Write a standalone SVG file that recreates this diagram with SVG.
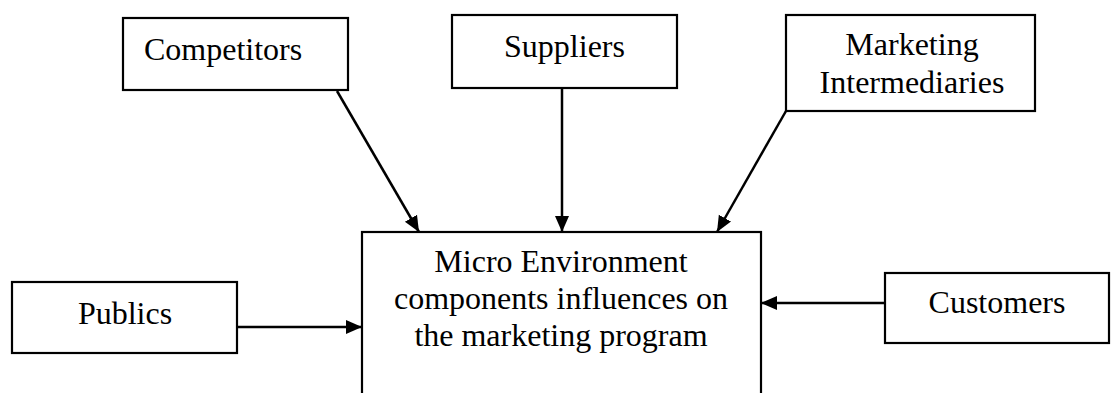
<svg xmlns="http://www.w3.org/2000/svg" width="1112" height="393" viewBox="0 0 1112 393">
<style>
.box{fill:#fff;stroke:#000;stroke-width:2.2}
.t{font-family:"Liberation Serif","Times New Roman",serif;font-size:32px;fill:#000}
.c{text-anchor:middle}
.conn{stroke:#000;stroke-width:2.5;fill:none}
</style>
<defs>
<marker id="ah" markerUnits="userSpaceOnUse" markerWidth="18" markerHeight="18" viewBox="0 0 18 18" refX="16" refY="9" orient="auto">
<path d="M0,2 L16,9 L0,16 Z" fill="#000"/>
</marker>
</defs>
<rect width="1112" height="393" fill="#fff"/>
<g id="competitors">
<rect class="box" x="123" y="18" width="225" height="72"/>
<text class="t" x="144" y="60">Competitors</text>
</g>
<g id="suppliers">
<rect class="box" x="452" y="15" width="225" height="73"/>
<text class="t c" x="564.5" y="57">Suppliers</text>
</g>
<g id="intermediaries">
<rect class="box" x="786" y="15" width="249" height="96"/>
<text class="t c" x="912" y="55">Marketing</text>
<text class="t c" x="912" y="93">Intermediaries</text>
</g>
<g id="center">
<rect class="box" x="362" y="232" width="399" height="180"/>
<text class="t c" x="561" y="272">Micro Environment</text>
<text class="t c" x="561" y="309">components influences on</text>
<text class="t c" x="561" y="346">the marketing program</text>
</g>
<g id="publics">
<rect class="box" x="12" y="282" width="225" height="71"/>
<text class="t c" x="125" y="324">Publics</text>
</g>
<g id="customers">
<rect class="box" x="885" y="273" width="224" height="70"/>
<text class="t c" x="997" y="313">Customers</text>
</g>
<g id="connectors">
<line class="conn" x1="337" y1="91" x2="419" y2="232" marker-end="url(#ah)"/>
<line class="conn" x1="562" y1="88" x2="562" y2="232" marker-end="url(#ah)"/>
<line class="conn" x1="786" y1="111" x2="717" y2="232" marker-end="url(#ah)"/>
<line class="conn" x1="237" y1="327" x2="362" y2="327" marker-end="url(#ah)"/>
<line class="conn" x1="885" y1="303" x2="761" y2="303" marker-end="url(#ah)"/>
</g>
</svg>
